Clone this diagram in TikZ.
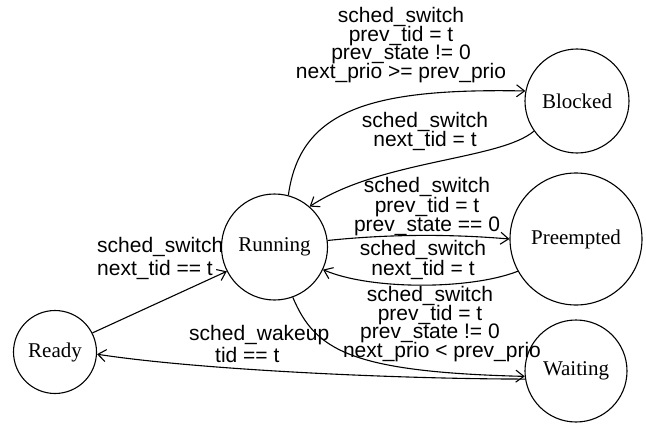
\documentclass[tikz,border=0pt]{standalone}
\usepackage{fontspec}
\setmainfont{Liberation Serif}
\setsansfont{Liberation Sans}
\usetikzlibrary{arrows.meta}
\newcommand{\lblfont}[1]{\sffamily\fontsize{21}{#1}\selectfont\lineskiplimit=-50pt\relax}
\begin{document}
\begin{tikzpicture}[x=1pt,y=-1pt,
  stnode/.style={circle,draw,line width=1.1pt,inner sep=0pt,font=\fontsize{21}{24}\selectfont},
  lbl/.style={inner sep=0pt,align=center,font=\lblfont{18.5}},
  tr/.style={line width=1.1pt,-{Straight Barb[length=8pt,width=12pt]}}]
\useasboundingbox (0,0) rectangle (646,428);
\node[stnode,minimum size=106pt] (run) at (274.5,247) {Running};
\node[stnode,minimum size=104pt] (blk) at (577,101) {Blocked};
\node[stnode,minimum size=132pt] (pre) at (576,239) {Preempted};
\node[stnode,minimum size=102pt] (wait) at (576,371) {Waiting};
\node[stnode,minimum size=83pt] (rdy) at (55,352) {Ready};

\draw[tr] (run.75) .. controls (300,110) and (370,88) .. (blk.169);
\draw[tr] (blk.215) .. controls (500,160) and (380,160) .. (run.49);
\draw[tr] (run.7) .. controls (390,234) and (450,234) .. (pre.180);
\draw[tr] (pre.209) .. controls (470,290) and (370,290) .. (run.-25);
\draw[tr] (run.-70) .. controls (315,350) and (350,372) .. (wait.186);
\draw[tr] (rdy.27) -- (run.207);
\draw[tr] (wait.189) .. controls (400,379) and (200,370) .. (rdy.-3);

\node[lbl] (l1) at (401,45) {sched\_switch\\prev\_tid = t\\prev\_state != 0\\next\_prio >= prev\_prio};
\node[lbl] (l2) at (425,131.5) {sched\_switch\\next\_tid = t};
\node[lbl,font=\lblfont{19.5}] (l3) at (427,207) {sched\_switch\\prev\_tid = t\\prev\_state == 0};
\node[lbl,font=\lblfont{20}] (l4) at (423,259.5) {sched\_switch\\next\_tid = t};
\node[lbl] (l5) at (430,324) {sched\_switch\\prev\_tid = t\\prev\_state != 0\\\hspace*{24pt}next\_prio < prev\_prio};
\node[lbl,align=left,anchor=west,font=\lblfont{23}] (l6) at (97,258.6) {sched\_switch\\next\_tid == t};
\node[lbl,align=left,anchor=west,font=\lblfont{22}] (l7) at (189,343.5) {sched\_wakeup\\\hspace*{26pt}tid == t};
\end{tikzpicture}
\end{document}
